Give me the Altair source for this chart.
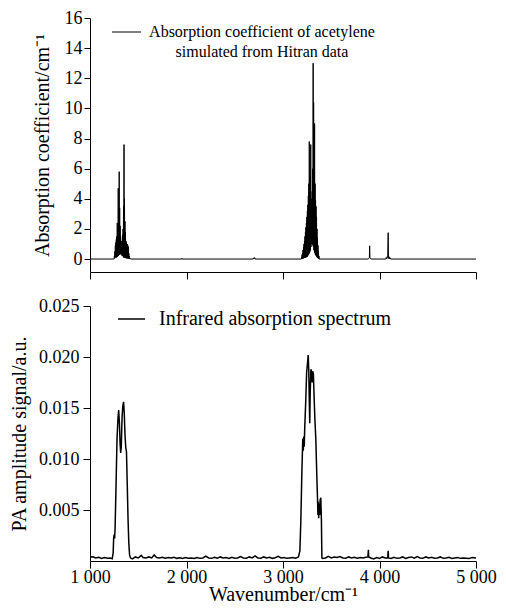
import altair as alt
import pandas as pd

FONT = "Liberation Serif"

# Absorption coefficient of acetylene simulated from HITRAN data: (wavenumber, cm^-1)
hitran = [
    (1000, 0.0), (1245, 0.0),
    (1250, 0.0), (1252.5, 0.2), (1255, 0.05), (1257.5, 0.5), (1260, 0.1), (1262.5, 0.9),
    (1265, 0.1), (1267.5, 1.1), (1270, 0.15), (1272.5, 1.3), (1275, 0.1), (1277.5, 1.5),
    (1280, 0.2), (1282.5, 2.4), (1285, 0.15), (1287.5, 2.0), (1290, 0.2), (1292.5, 4.7),
    (1295, 0.2), (1297.5, 2.8), (1300, 0.3), (1302.5, 5.8), (1305, 0.3), (1307.5, 3.4),
    (1310, 0.3), (1312.5, 2.2), (1315, 0.35), (1317.5, 1.5), (1320, 0.35), (1322.5, 1.2),
    (1325, 0.3), (1327.5, 1.0), (1330, 0.25), (1332.5, 1.2), (1335, 0.2), (1337.5, 1.6),
    (1340, 0.2), (1342.5, 2.0), (1345, 0.15), (1347.5, 3.5), (1350, 0.1), (1352.5, 7.6),
    (1355, 0.1), (1357.5, 4.0), (1360, 0.1), (1362.5, 2.5), (1365, 0.1), (1367.5, 1.8),
    (1370, 0.1), (1372.5, 1.2), (1375, 0.05), (1377.5, 1.1), (1380, 0.05), (1382.5, 1.0),
    (1385, 0.05), (1387.5, 1.0), (1390, 0.05), (1392.5, 0.9), (1395, 0.05), (1397.5, 0.8),
    (1400, 0.03), (1402.5, 0.4), (1405, 0.02), (1407.5, 0.2), (1410, 0.0), (1415, 0.05),
    (1420, 0.0),
    (1950, 0.0), (1952, 0.04), (1955, 0.0),
    (2690, 0.0), (2695, 0.08), (2700, 0.02), (2705, 0.1), (2710, 0.0),
    (3190, 0.0), (3192.5, 0.1), (3195, 0.02), (3197.5, 0.3), (3200, 0.03), (3202.5, 0.4),
    (3205, 0.05), (3207.5, 0.6), (3210, 0.05), (3212.5, 0.8), (3215, 0.05), (3217.5, 1.0),
    (3220, 0.08), (3222.5, 1.2), (3225, 0.08), (3227.5, 1.5), (3230, 0.1), (3232.5, 1.8),
    (3235, 0.1), (3237.5, 2.1), (3240, 0.12), (3242.5, 2.4), (3245, 0.15), (3247.5, 2.8),
    (3250, 0.15), (3252.5, 3.2), (3255, 0.2), (3257.5, 3.6), (3260, 0.25), (3262.5, 4.2),
    (3265, 0.3), (3267.5, 5.0), (3270, 0.35), (3272.5, 7.8), (3275, 0.4), (3277.5, 5.5),
    (3280, 0.5), (3282.5, 5.5), (3285, 0.6), (3287.5, 7.6), (3290, 0.8), (3292.5, 4.0),
    (3295, 1.0), (3297.5, 3.5), (3300, 1.1), (3302.5, 4.5), (3305, 1.0), (3307.5, 6.0),
    (3310, 0.9), (3312.5, 13.0), (3315, 0.8), (3317.5, 10.4), (3320, 0.6), (3322.5, 6.0),
    (3325, 0.5), (3327.5, 9.0), (3330, 0.4), (3332.5, 5.0), (3335, 0.3), (3337.5, 3.9),
    (3340, 0.25), (3342.5, 3.5), (3345, 0.2), (3347.5, 2.8), (3350, 0.15), (3352.5, 2.0),
    (3355, 0.1), (3357.5, 1.4), (3360, 0.08), (3362.5, 0.9), (3365, 0.05), (3367.5, 0.5),
    (3370, 0.02), (3372.5, 0.2), (3375, 0.0),
    (3885, 0.0), (3890, 0.05), (3895, 0.1), (3898, 0.88), (3901, 0.08), (3905, 0.05),
    (3910, 0.0),
    (4065, 0.0), (4070, 0.1), (4075, 0.02), (4080, 0.15), (4085, 0.1), (4090, 1.75),
    (4093, 0.12), (4097, 0.03), (4100, 0.15), (4105, 0.02), (4110, 0.08), (4115, 0.0),
    (5000, 0.0),
]

# Infrared (photoacoustic) absorption spectrum: (wavenumber, a.u.)
pa_signal = [
    (1000, 0.00040), (1030, 0.00042), (1060, 0.00030), (1090, 0.00036), (1120, 0.00024),
    (1150, 0.00034), (1180, 0.00028), (1210, 0.00030), (1230, 0.00022), (1240, 0.00080),
    (1245, 0.00220), (1250, 0.00260), (1255, 0.00220), (1260, 0.00320), (1270, 0.00750),
    (1280, 0.01200), (1290, 0.01400), (1297, 0.01480), (1305, 0.01350), (1312, 0.01150),
    (1318, 0.01060), (1324, 0.01120), (1332, 0.01400), (1340, 0.01520), (1348, 0.01560),
    (1355, 0.01450), (1362, 0.01250), (1370, 0.01120), (1378, 0.01070), (1386, 0.00750),
    (1394, 0.00420), (1402, 0.00180), (1410, 0.00060), (1420, 0.00030), (1440, 0.00020),
    (1470, 0.00040), (1500, 0.00030), (1530, 0.00055), (1550, 0.00035), (1580, 0.00030),
    (1610, 0.00040), (1640, 0.00030), (1665, 0.00060), (1690, 0.00035), (1720, 0.00030),
    (1750, 0.00036), (1780, 0.00028), (1810, 0.00034), (1840, 0.00030), (1870, 0.00036),
    (1900, 0.00026), (1930, 0.00032), (1960, 0.00024), (1990, 0.00034), (2020, 0.00028),
    (2050, 0.00030), (2080, 0.00024), (2110, 0.00034), (2140, 0.00026), (2170, 0.00030),
    (2200, 0.00048), (2230, 0.00030), (2260, 0.00026), (2290, 0.00036), (2320, 0.00028),
    (2350, 0.00040), (2380, 0.00030), (2410, 0.00034), (2440, 0.00026), (2470, 0.00036),
    (2500, 0.00028), (2530, 0.00030), (2560, 0.00044), (2590, 0.00030), (2620, 0.00026),
    (2650, 0.00040), (2680, 0.00030), (2710, 0.00050), (2740, 0.00030), (2770, 0.00028),
    (2800, 0.00040), (2830, 0.00030), (2860, 0.00036), (2890, 0.00026), (2920, 0.00032),
    (2950, 0.00046), (2980, 0.00030), (3010, 0.00034), (3040, 0.00026), (3070, 0.00030),
    (3100, 0.00034), (3130, 0.00028), (3160, 0.00040), (3175, 0.00100), (3185, 0.00400),
    (3195, 0.00850), (3205, 0.01200), (3210, 0.01080), (3215, 0.01220), (3220, 0.01120),
    (3225, 0.01300), (3235, 0.01550), (3245, 0.01850), (3255, 0.01950), (3261, 0.02020),
    (3267, 0.01870), (3272, 0.01600), (3277, 0.01350), (3282, 0.01650), (3289, 0.01880),
    (3295, 0.01860), (3302, 0.01750), (3308, 0.01860), (3315, 0.01830), (3322, 0.01620),
    (3330, 0.01400), (3340, 0.01200), (3350, 0.00850), (3358, 0.00600), (3362, 0.00450),
    (3366, 0.00580), (3370, 0.00420), (3375, 0.00560), (3380, 0.00450), (3385, 0.00600),
    (3392, 0.00620), (3398, 0.00400), (3403, 0.00030), (3410, 0.00024), (3440, 0.00030),
    (3470, 0.00046), (3500, 0.00030), (3530, 0.00040), (3560, 0.00034), (3590, 0.00044),
    (3620, 0.00030), (3650, 0.00028), (3680, 0.00040), (3710, 0.00030), (3740, 0.00036),
    (3770, 0.00028), (3800, 0.00034), (3830, 0.00030), (3860, 0.00036), (3880, 0.00040),
    (3885, 0.00110), (3888, 0.00040), (3910, 0.00030), (3940, 0.00020), (3970, 0.00034),
    (4000, 0.00026), (4030, 0.00040), (4060, 0.00030), (4085, 0.00032), (4090, 0.00100),
    (4093, 0.00030), (4120, 0.00024), (4150, 0.00036), (4180, 0.00026), (4210, 0.00030),
    (4240, 0.00040), (4270, 0.00026), (4300, 0.00034), (4330, 0.00040), (4360, 0.00028),
    (4390, 0.00044), (4420, 0.00030), (4450, 0.00026), (4480, 0.00040), (4510, 0.00030),
    (4540, 0.00036), (4570, 0.00028), (4600, 0.00030), (4630, 0.00040), (4660, 0.00026),
    (4690, 0.00030), (4720, 0.00036), (4750, 0.00024), (4780, 0.00030), (4810, 0.00034),
    (4840, 0.00026), (4870, 0.00030), (4900, 0.00028), (4930, 0.00024), (4960, 0.00034),
    (5000, 0.00030),
]

x_ticks = [1000, 2000, 3000, 4000, 5000]
top_y_ticks = [0, 2, 4, 6, 8, 10, 12, 14, 16]
bot_y_ticks = [0.005, 0.010, 0.015, 0.020, 0.025]

top_legend = ["Absorption coefficient of acetylene", "simulated from Hitran data"]
bot_legend = "Infrared absorption spectrum"

df_top = pd.DataFrame(hitran, columns=["wn", "val"])
df_bot = pd.DataFrame(pa_signal, columns=["wn", "val"])
one = pd.DataFrame({"k": [0]})

W = 386

top_line = alt.Chart(df_top).mark_line(color="black", strokeWidth=1.0).encode(
    x=alt.X("wn:Q", scale=alt.Scale(domain=[1000, 5000], nice=False, zero=False),
            axis=alt.Axis(values=x_ticks, labels=False, title=None, tickSize=7)),
    y=alt.Y("val:Q", scale=alt.Scale(domain=[-0.86, 16], nice=False, zero=False),
            axis=alt.Axis(values=top_y_ticks, title="Absorption coefficient/cm⁻¹",
                          labelFont=FONT, titleFont=FONT,
                          tickSize=6, labelPadding=2, titlePadding=12)),
)
top_leg_rule = alt.Chart(one).mark_rule(color="black", strokeWidth=1).encode(
    x=alt.value(22), x2=alt.value(51), y=alt.value(14)
)
top_leg_t1 = alt.Chart(one).mark_text(
    font=FONT, fontSize=16, align="center", baseline="middle", color="black"
).encode(x=alt.value(172), y=alt.value(14), text=alt.value(top_legend[0]))
top_leg_t2 = alt.Chart(one).mark_text(
    font=FONT, fontSize=16, align="center", baseline="middle", color="black"
).encode(x=alt.value(172), y=alt.value(34), text=alt.value(top_legend[1]))

top = alt.layer(top_line, top_leg_rule, top_leg_t1, top_leg_t2).properties(width=W, height=254)

bot_line = alt.Chart(df_bot).mark_line(color="black", strokeWidth=1.5).encode(
    x=alt.X("wn:Q", scale=alt.Scale(domain=[1000, 5000], nice=False, zero=False),
            axis=alt.Axis(values=x_ticks, title="Wavenumber/cm⁻¹", tickSize=7,
                          labelFont=FONT, titleFont=FONT,
                          labelPadding=0, titlePadding=-2,
                          labelExpr="replace(format(datum.value, ','), ',', ' ')")),
    y=alt.Y("val:Q", scale=alt.Scale(domain=[0, 0.025], nice=False, zero=False),
            axis=alt.Axis(values=bot_y_ticks, format=".3f", title="PA amplitude signal/a.u.",
                          labelFont=FONT, titleFont=FONT,
                          tickSize=7, labelPadding=4, titlePadding=9)),
)
bot_leg_rule = alt.Chart(one).mark_rule(color="black", strokeWidth=1.5).encode(
    x=alt.value(28), x2=alt.value(55), y=alt.value(13)
)
bot_leg_t = alt.Chart(one).mark_text(
    font=FONT, fontSize=20, align="left", baseline="middle", color="black"
).encode(x=alt.value(69), y=alt.value(13), text=alt.value(bot_legend))

bottom = alt.layer(bot_line, bot_leg_rule, bot_leg_t).properties(width=W, height=255)

chart = alt.vconcat(top, bottom, spacing=34, bounds="flush").properties(
    padding={"left": 1, "top": 1, "right": 0, "bottom": 0},
    background="white",
).configure(
    style={"guide-label": {"font": FONT, "fill": "black"},
           "guide-title": {"font": FONT, "fill": "black"}},
).configure_view(stroke=None).configure_axis(
    grid=False,
    domainColor="black",
    tickColor="black",
    labelColor="black",
    titleColor="black",
    labelFont=FONT,
    titleFont=FONT,
    labelFontSize=18,
    titleFontSize=20,
    labelFontWeight="normal",
    titleFontWeight="normal",
    domainWidth=1,
    tickWidth=1,
    labelFlush=False,
    labelOverlap=False,
)

chart.save("out.html", embed_options={"renderer": "svg", "actions": False})
